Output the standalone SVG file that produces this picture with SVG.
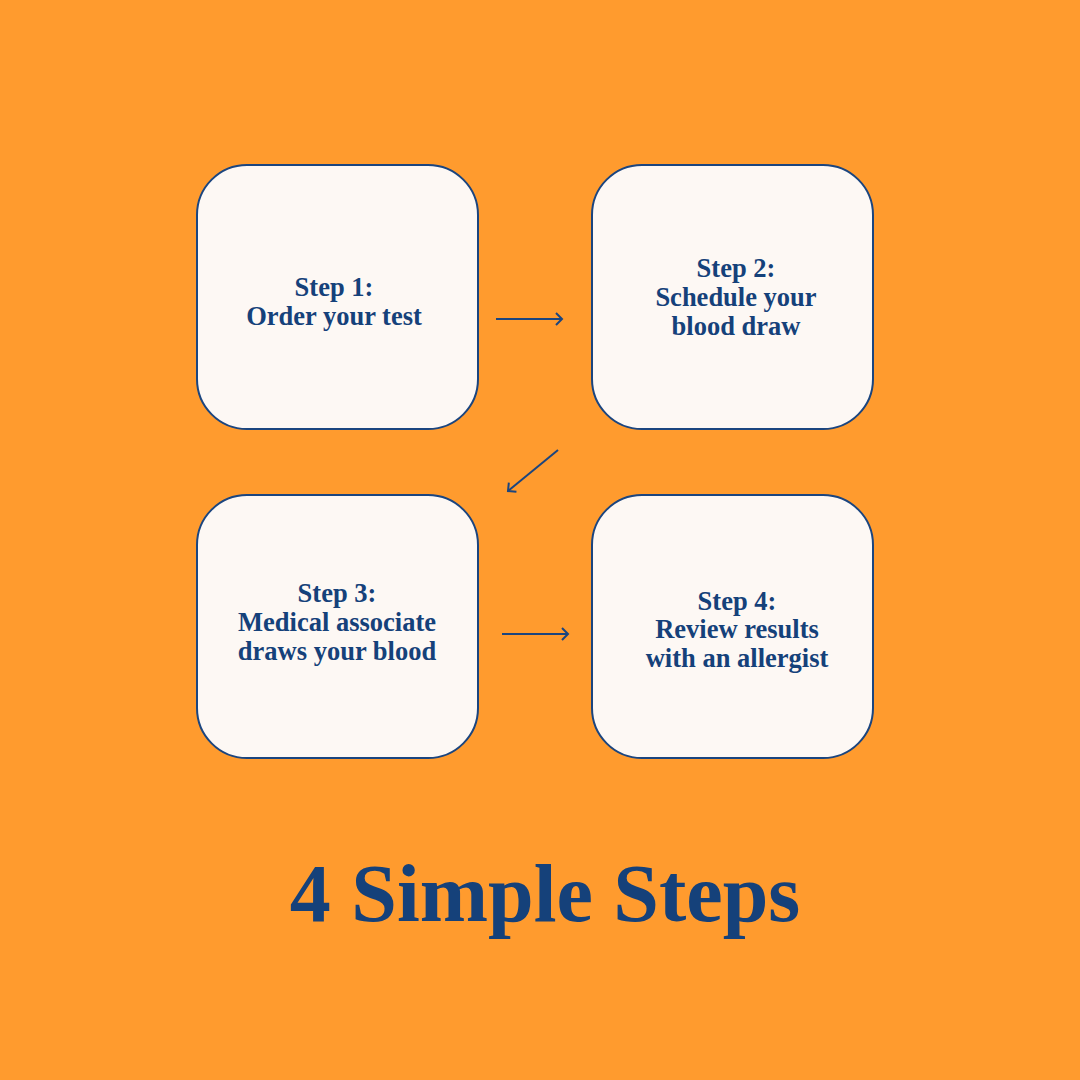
<svg xmlns="http://www.w3.org/2000/svg" width="1080" height="1080" viewBox="0 0 1080 1080">
<defs>
<style>
.box{fill:#FDF8F4;stroke:#1B457F;stroke-width:2}
.t{font-family:"Liberation Serif","Times New Roman",serif;font-weight:bold;font-size:26.5px;fill:#15417A;text-anchor:middle}
.title{font-family:"Liberation Serif","Times New Roman",serif;font-weight:bold;font-size:82px;fill:#15417A;text-anchor:middle}
.c{stroke:#1B457F;stroke-width:2;fill:none}
</style>
<marker id="ah" markerWidth="14" markerHeight="14" refX="10" refY="7" orient="auto" markerUnits="userSpaceOnUse">
<path d="M4,1 L10,7 L4,13" fill="none" stroke="#1B457F" stroke-width="2"/>
</marker>
</defs>
<rect width="1080" height="1080" fill="#FF9B2E"/>
<g id="step1">
<rect class="box" x="197" y="165" width="281" height="264" rx="50"/>
<text class="t" x="334" y="296">Step 1:</text>
<text class="t" x="334" y="325">Order your test</text>
</g>
<g id="step2">
<rect class="box" x="592" y="165" width="281" height="264" rx="50"/>
<text class="t" x="736" y="277">Step 2:</text>
<text class="t" x="736" y="306">Schedule your</text>
<text class="t" x="736" y="335">blood draw</text>
</g>
<g id="step3">
<rect class="box" x="197" y="495" width="281" height="263" rx="50"/>
<text class="t" x="337" y="602">Step 3:</text>
<text class="t" x="337" y="631">Medical associate</text>
<text class="t" x="337" y="660">draws your blood</text>
</g>
<g id="step4">
<rect class="box" x="592" y="495" width="281" height="263" rx="50"/>
<text class="t" x="737" y="610">Step 4:</text>
<text class="t" x="737" y="638">Review results</text>
<text class="t" x="737" y="667">with an allergist</text>
</g>
<g id="connectors">
<line class="c" x1="496" y1="319" x2="562" y2="319" marker-end="url(#ah)"/>
<line class="c" x1="558" y1="450" x2="508" y2="491" marker-end="url(#ah)"/>
<line class="c" x1="502" y1="634" x2="568" y2="634" marker-end="url(#ah)"/>
</g>
<text class="title" x="545" y="921">4 Simple Steps</text>
</svg>
